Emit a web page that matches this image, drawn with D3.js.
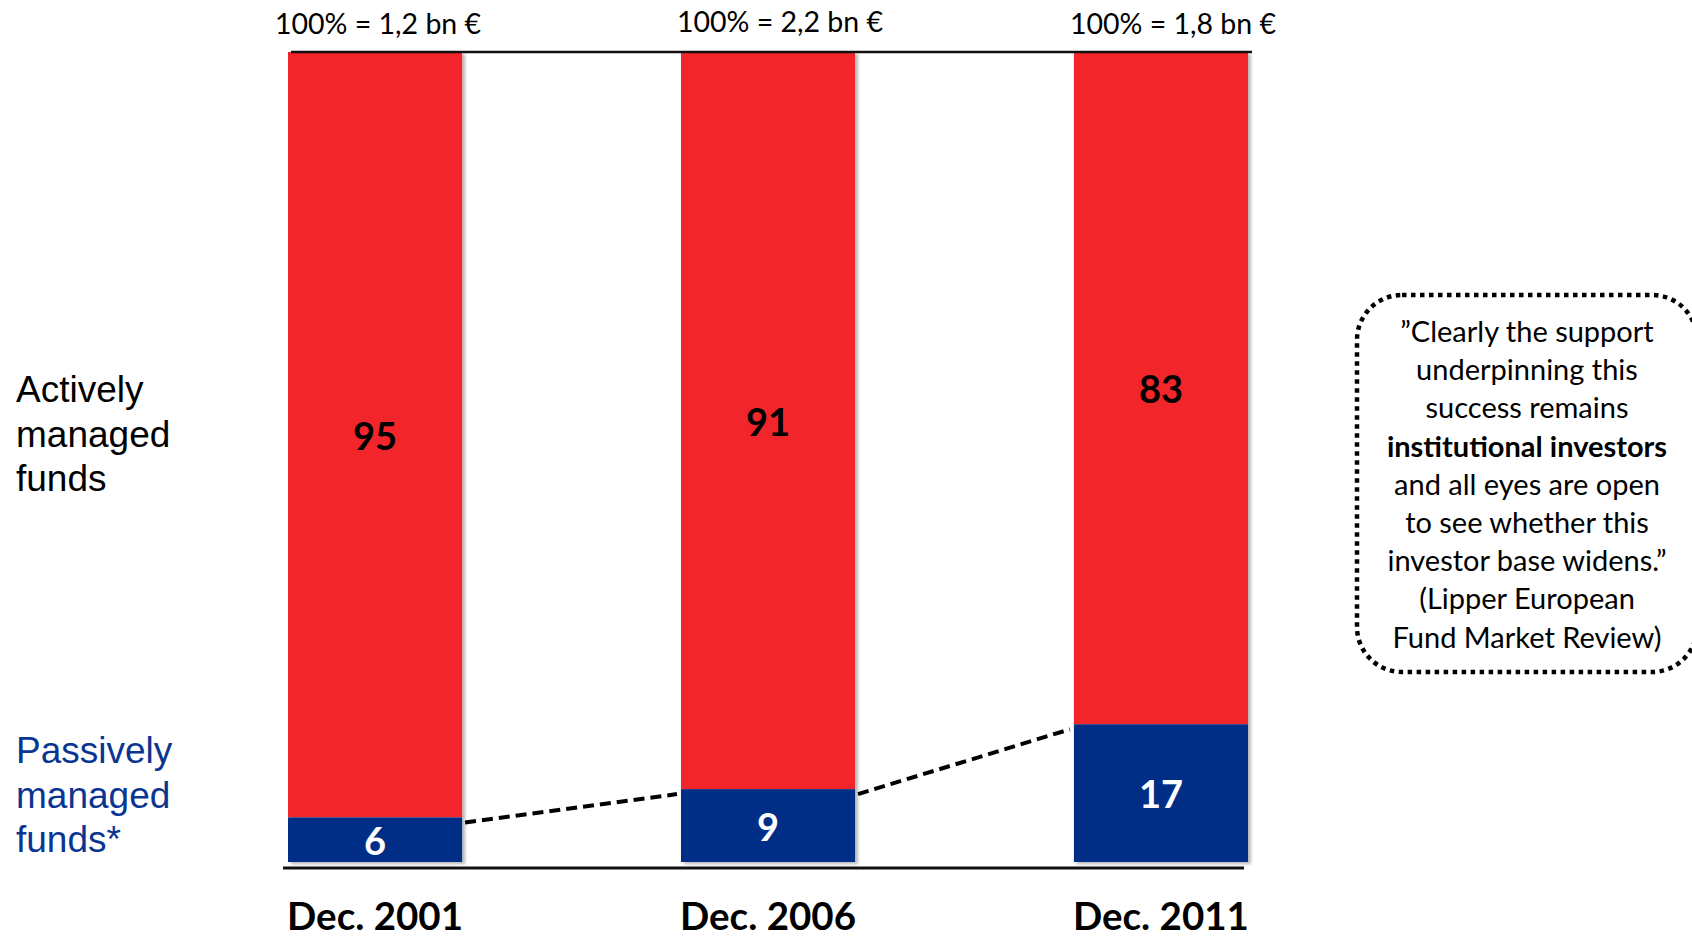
<!DOCTYPE html>
<html>
<head>
<meta charset="utf-8">
<script src="https://cdn.jsdelivr.net/npm/d3@7"></script>
<style>
  html, body { margin: 0; padding: 0; background: #fff; }
  svg { display: block; }
</style>
</head>
<body>
<svg id="chart" width="1692" height="937"></svg>
<script>
// ---- data ----
const categories = ["Dec. 2001", "Dec. 2006", "Dec. 2011"];
const totalLabels = ["100% = 1,2 bn €", "100% = 2,2 bn €", "100% = 1,8 bn €"];
const activeShare = [94.5, 91, 83];
const passiveShare = [5.5, 9, 17];
const leftLabelsActive = ["Actively", "managed", "funds"];
const leftLabelsPassive = ["Passively", "managed", "funds*"];
const quoteLines = [
  "”Clearly the support",
  "underpinning this",
  "success remains",
  "institutional investors",
  "and all eyes are open",
  "to see whether this",
  "investor base widens.”",
  "(Lipper European",
  "Fund Market Review)"
];
const quoteBoldLine = 3;

// ---- layout ----
const RED = "#f2262a", BLUE = "#062f87", PBLUE = "#0b3592";
const CAL = "Lato, 'Open Sans', sans-serif";
const svg = d3.select("#chart");

const defs = svg.append("defs");
const f = defs.append("filter").attr("id", "sh").attr("x", "-10%").attr("y", "-10%").attr("width", "130%").attr("height", "130%");
f.append("feDropShadow").attr("dx", 3).attr("dy", 2).attr("stdDeviation", 1.6).attr("flood-color", "#000").attr("flood-opacity", 0.28);

const x = d3.scaleBand().domain(categories).range([288, 1248]).paddingInner(0.557).paddingOuter(0);
const y = d3.scaleLinear().domain([0, 100]).range([862, 52]);
const bw = x.bandwidth();

const rows = categories.map((c, i) => ({ c, i, a: activeShare[i], p: passiveShare[i] }));

// bars
const g = svg.append("g");
const bars = g.selectAll("g.bar").data(rows).join("g").attr("class", "bar").attr("filter", "url(#sh)");
bars.append("rect")
  .attr("x", d => x(d.c)).attr("width", bw)
  .attr("y", d => y(d.p + d.a)).attr("height", d => y(d.p) - y(d.p + d.a))
  .attr("fill", RED);
bars.append("rect")
  .attr("x", d => x(d.c)).attr("width", bw)
  .attr("y", d => y(d.p)).attr("height", d => y(0) - y(d.p))
  .attr("fill", BLUE);

// top and base lines
svg.append("line").attr("x1", 291).attr("x2", 1252).attr("y1", y(100)).attr("y2", y(100))
  .attr("stroke", "#111").attr("stroke-width", 2.5);
svg.append("line").attr("x1", 283).attr("x2", 1244).attr("y1", 868).attr("y2", 868)
  .attr("stroke", "#111").attr("stroke-width", 3);

// value labels
g.selectAll("text.va").data(rows).join("text").attr("class", "va")
  .attr("x", d => x(d.c) + bw / 2)
  .attr("y", d => (y(d.p + d.a) + y(d.p)) / 2 + 15)
  .attr("text-anchor", "middle").attr("font-family", CAL).attr("font-weight", 700)
  .attr("font-size", 38).attr("fill", "#000")
  .text(d => Math.round(d.a));
g.selectAll("text.vp").data(rows).join("text").attr("class", "vp")
  .attr("x", d => x(d.c) + bw / 2)
  .attr("y", d => (y(d.p) + y(0)) / 2 + 15)
  .attr("text-anchor", "middle").attr("font-family", CAL).attr("font-weight", 700)
  .attr("font-size", 38).attr("fill", "#fff")
  .text(d => Math.round(d.p));

// dashed connectors
const conn = d3.pairs(rows).map(([a, b]) => [
  [x(a.c) + bw + 3, y(a.p) + 5],
  [x(b.c) - 4, y(b.p) + 5]
]);
svg.selectAll("path.conn").data(conn).join("path").attr("class", "conn")
  .attr("d", d => d3.line()(d))
  .attr("stroke", "#000").attr("stroke-width", 4).attr("stroke-dasharray", "11 6").attr("fill", "none");

// total labels
const nudge = [3, 12, 12], topBase = [34, 32, 34];
svg.selectAll("text.tot").data(rows).join("text").attr("class", "tot")
  .attr("x", d => x(d.c) + bw / 2 + nudge[d.i])
  .attr("y", d => topBase[d.i])
  .attr("text-anchor", "middle").attr("font-family", CAL).attr("font-size", 28.5).attr("fill", "#000")
  .text(d => totalLabels[d.i]);

// category labels
svg.selectAll("text.cat").data(rows).join("text").attr("class", "cat")
  .attr("x", d => x(d.c) + bw / 2)
  .attr("y", 930)
  .attr("text-anchor", "middle").attr("font-family", CAL).attr("font-weight", 700)
  .attr("font-size", 38.5).attr("fill", "#000")
  .text(d => d.c);

// left legend labels
const la = svg.append("text").attr("font-family", "'Liberation Sans', Arial, sans-serif").attr("font-size", 37).attr("fill", "#000");
leftLabelsActive.forEach((t, i) => la.append("tspan").attr("x", 16).attr("y", 402 + i * 44.5).text(t));
const lp = svg.append("text").attr("font-family", "'Liberation Sans', Arial, sans-serif").attr("font-size", 37).attr("fill", PBLUE);
leftLabelsPassive.forEach((t, i) => lp.append("tspan").attr("x", 16).attr("y", 763 + i * 44.5).text(t));

// quote box
svg.append("rect").attr("x", 1357).attr("y", 295).attr("width", 340).attr("height", 377).attr("rx", 45).attr("ry", 45)
  .attr("fill", "none").attr("stroke", "#000").attr("stroke-width", 4.5).attr("stroke-dasharray", "4.5 4.5");
svg.selectAll("text.q").data(quoteLines).join("text").attr("class", "q")
  .attr("x", 1527).attr("y", (d, i) => 342 + i * 38.2)
  .attr("text-anchor", "middle").attr("font-family", CAL).attr("font-size", 29)
  .attr("font-weight", (d, i) => i === quoteBoldLine ? 700 : 400).attr("fill", "#000")
  .text(d => d);
</script>
</body>
</html>
